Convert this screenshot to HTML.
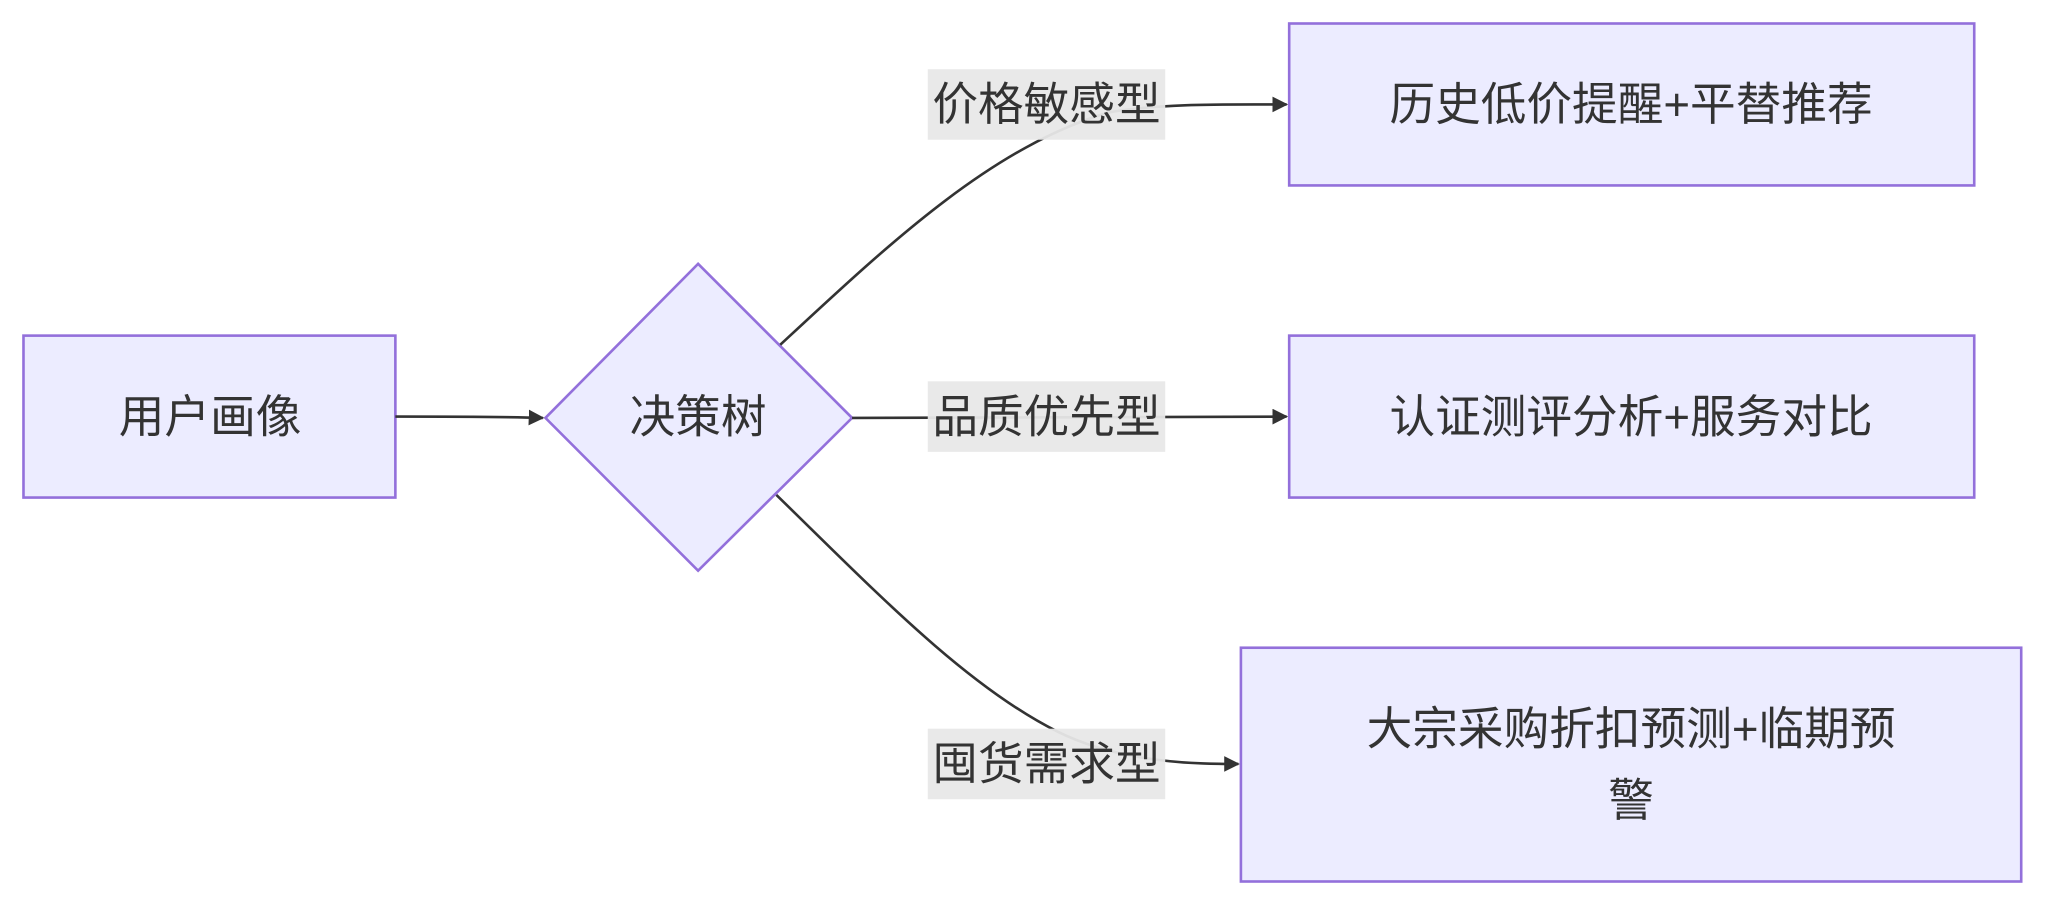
<!DOCTYPE html>
<html><head><meta charset="utf-8"><style>
html,body{margin:0;padding:0;background:#fff;width:2046px;height:905px;overflow:hidden}
svg{display:block}
text{font-family:"Liberation Sans","Noto Sans CJK SC",sans-serif;fill:#333;font-size:35px}
</style></head><body>
<svg width="2046" height="905" viewBox="0 0 1568 693" preserveAspectRatio="none">
<defs><marker id="a" viewBox="0 0 10 10" refX="9" refY="5" markerWidth="6" markerHeight="6" orient="auto"><path d="M0,0L10,5L0,10z" fill="#333"/></marker></defs>
<g fill="#ECECFF" stroke="#9370DB" stroke-width="2">
<rect x="18" y="257" width="285" height="124"/>
<polygon points="535,202 653,320 535,437 418,320"/>
<rect x="988" y="18" width="525" height="124"/>
<rect x="988" y="257" width="525" height="124"/>
<rect x="951" y="496" width="598" height="179"/>
</g>
<g fill="none" stroke="#333" stroke-width="2">
<path d="M303,319 C340,319 380,319 416,320" marker-end="url(#a)"/>
<path d="M598,264 C680,188 760,112 850,86 C890,79 940,80 986,80" marker-end="url(#a)"/>
<path d="M653,320 L986,319" marker-end="url(#a)"/>
<path d="M595,379 C670,452 740,525 810,560 C860,585 920,585 949,585" marker-end="url(#a)"/>
</g>
<g fill="#e8e8e8" opacity="0.95">
<rect x="711" y="53" width="182" height="54"/>
<rect x="711" y="292" width="182" height="54"/>
<rect x="711" y="558" width="182" height="54"/>
</g>
<g text-anchor="middle">
<text x="802" y="92">价格敏感型</text>
<text x="802" y="331">品质优先型</text>
<text x="802" y="597">囤货需求型</text>
<text x="161" y="331">用户画像</text>
<text x="535" y="331">决策树</text>
<text x="1250" y="92">历史低价提醒+平替推荐</text>
<text x="1250" y="331">认证测评分析+服务对比</text>
<text x="1250" y="570">大宗采购折扣预测+临期预</text>
<text x="1250" y="625">警</text>
</g>
</svg>
</body></html>
